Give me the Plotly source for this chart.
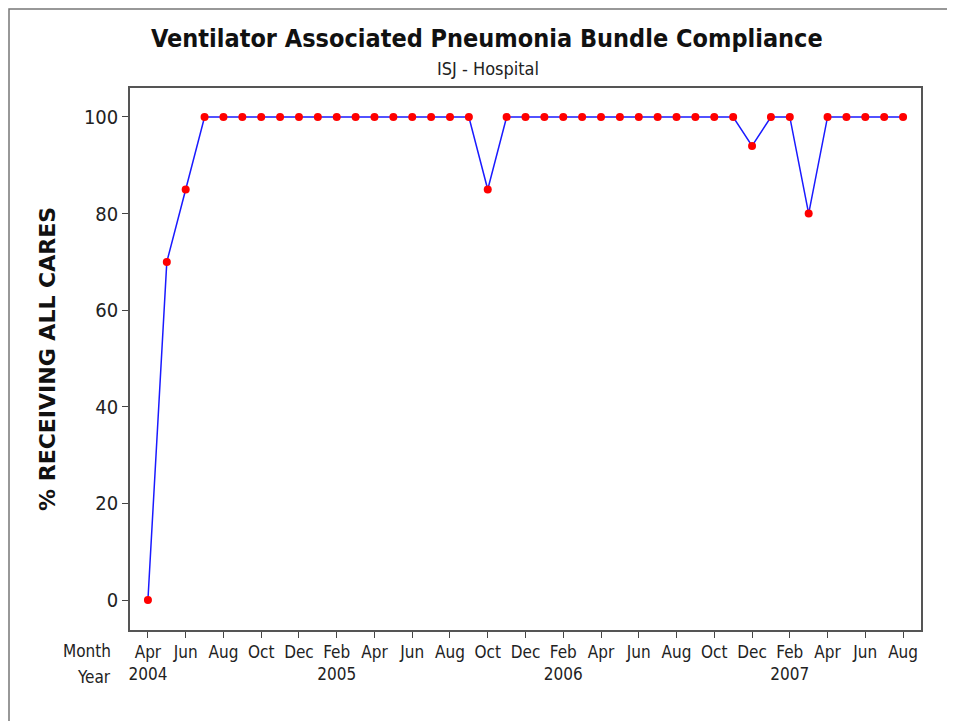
import plotly.graph_objects as go

months = ["Apr", "May", "Jun", "Jul", "Aug", "Sep", "Oct", "Nov", "Dec",
          "Jan", "Feb", "Mar", "Apr", "May", "Jun", "Jul", "Aug", "Sep", "Oct", "Nov", "Dec",
          "Jan", "Feb", "Mar", "Apr", "May", "Jun", "Jul", "Aug", "Sep", "Oct", "Nov", "Dec",
          "Jan", "Feb", "Mar", "Apr", "May", "Jun", "Jul", "Aug"]
years = [2004] * 9 + [2005] * 12 + [2006] * 12 + [2007] * 8
compliance = [0, 70, 85, 100, 100, 100, 100, 100, 100,
              100, 100, 100, 100, 100, 100, 100, 100, 100, 85, 100, 100,
              100, 100, 100, 100, 100, 100, 100, 100, 100, 100, 100, 94,
              100, 100, 80, 100, 100, 100, 100, 100]
y_ticks = [0, 20, 40, 60, 80, 100]

idx = list(range(len(months)))
tickvals = idx[::2]
ticktext = []
prev_year = None
for i in tickvals:
    if years[i] != prev_year:
        ticktext.append(f"{months[i]}<br>{years[i]}")
        prev_year = years[i]
    else:
        ticktext.append(months[i])

FONT = "DejaVu Sans Condensed, Liberation Sans Narrow, Arial Narrow, sans-serif"

W, H = 947, 713
L, R, T, B = 122, 34, 80, 91
PW, PH = W - L - R, H - T - B

fig = go.Figure()
fig.add_trace(go.Scatter(
    x=idx, y=compliance, mode="lines+markers",
    line=dict(color="#1a1aff", width=1.5),
    marker=dict(color="#ff0000", size=8),
    hoverinfo="skip", showlegend=False,
))

fig.update_layout(
    width=W, height=H,
    margin=dict(l=L, r=R, t=T, b=B),
    paper_bgcolor="white", plot_bgcolor="white",
    font=dict(family=FONT, color="#222222"),
    xaxis=dict(range=[-0.95, 40.95], tickvals=tickvals, ticktext=ticktext,
               ticks="outside", ticklen=6, tickcolor="#444", showgrid=False,
               zeroline=False, showline=True, mirror=True, linecolor="#555", linewidth=1.5,
               tickfont=dict(size=17, family=FONT, color="#222")),
    yaxis=dict(range=[-6.2, 106], tickvals=y_ticks,
               ticks="outside", ticklen=6, tickcolor="#444", showgrid=False,
               zeroline=False, showline=True, mirror=True, linecolor="#555", linewidth=1.5,
               tickfont=dict(size=20, family=FONT, color="#222")),
)

fig.add_annotation(text="<b>% RECEIVING ALL CARES</b>", textangle=-90,
                   xref="paper", yref="paper", x=(39 - L) / PW, y=0.5,
                   showarrow=False, xanchor="center", yanchor="middle",
                   font=dict(size=22, family="DejaVu Sans, Verdana, sans-serif", color="#111"))
fig.add_annotation(text="<b>Ventilator Associated Pneumonia Bundle Compliance</b>",
                   xref="paper", yref="paper", x=(479 - L) / PW, y=1.0, yshift=50,
                   showarrow=False, font=dict(size=25, family=FONT, color="#111"),
                   xanchor="center", yanchor="middle")
fig.add_annotation(text="ISJ - Hospital",
                   xref="paper", yref="paper", x=(480 - L) / PW, y=1.0, yshift=20,
                   showarrow=False, font=dict(size=18, family=FONT, color="#222"),
                   xanchor="center", yanchor="middle")
fig.add_annotation(text="Month", xref="paper", yref="paper", x=(105 - L) / PW, y=0, yshift=-21,
                   showarrow=False, font=dict(size=17, family=FONT, color="#222"),
                   xanchor="right", yanchor="middle")
fig.add_annotation(text="Year", xref="paper", yref="paper", x=(105 - L) / PW, y=0, yshift=-47,
                   showarrow=False, font=dict(size=17, family=FONT, color="#222"),
                   xanchor="right", yanchor="middle")

# outer frame
fig.add_shape(type="rect", xref="paper", yref="paper",
              x0=(1 - L) / PW, x1=(W + 20 - L) / PW,
              y0=-(H - T - PH - 1 + 3) / PH, y1=1 + (T - 1) / PH,
              line=dict(color="#777", width=1.5), layer="below")

fig.write_html("out.html")
